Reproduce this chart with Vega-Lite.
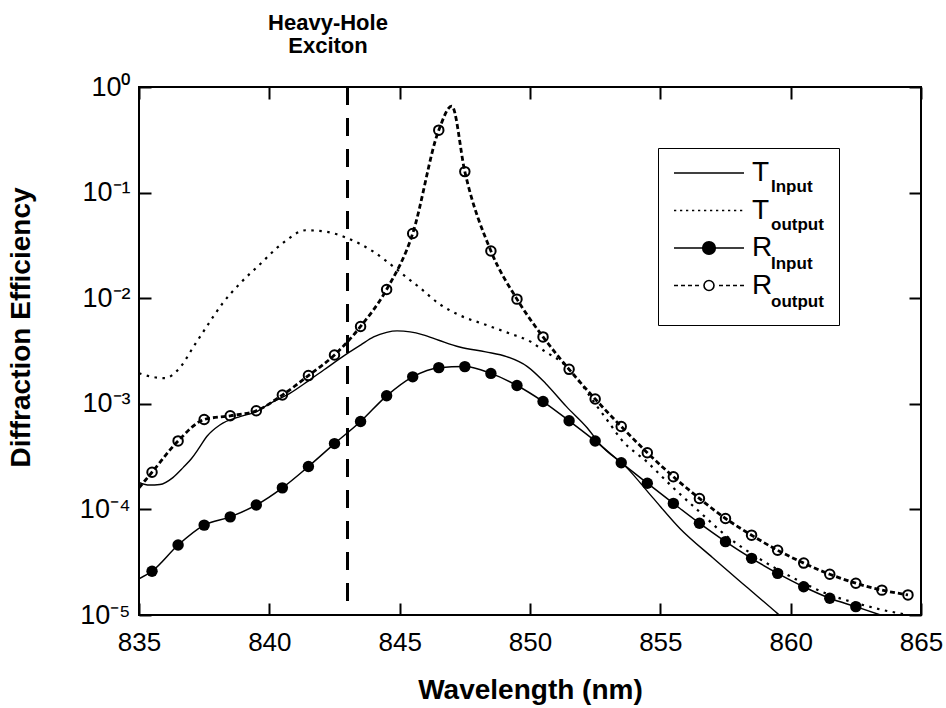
{
  "$schema": "https://vega.github.io/schema/vega-lite/v6.json",
  "width": 782,
  "height": 528,
  "autosize": {"type": "none"},
  "padding": {"left": 139, "top": 87, "right": 25, "bottom": 93},
  "background": "white",
  "config": {
    "font": "Liberation Sans",
    "view": {"stroke": "black", "strokeWidth": 2},
    "axis": {"grid": false, "domainOpacity": 0, "labelColor": "black", "titleColor": "black", "labelFont": "Liberation Sans", "titleFont": "Liberation Sans"}
  },
  "title": {"text": ["Heavy-Hole", "Exciton"], "anchor": "start", "align": "center", "dx": 189, "fontSize": 22, "fontWeight": "bold", "font": "Liberation Sans", "lineHeight": 23, "offset": 15, "color": "black", "frame": "group"},
  "data": {"values": [
    {"series": "T_Input", "wl": 835.0, "eff": 1.8e-4}, {"series": "T_Input", "wl": 835.4, "eff": 1.7e-4}, {"series": "T_Input", "wl": 835.8, "eff": 1.72e-4}, {"series": "T_Input", "wl": 836.3, "eff": 2.0e-4}, {"series": "T_Input", "wl": 836.7, "eff": 2.5e-4}, {"series": "T_Input", "wl": 837.0, "eff": 3.0e-4}, {"series": "T_Input", "wl": 837.3, "eff": 3.8e-4}, {"series": "T_Input", "wl": 837.6, "eff": 4.9e-4}, {"series": "T_Input", "wl": 838.1, "eff": 6.3e-4}, {"series": "T_Input", "wl": 838.9, "eff": 7.6e-4}, {"series": "T_Input", "wl": 839.5, "eff": 8.4e-4}, {"series": "T_Input", "wl": 840.0, "eff": 1.0e-3}, {"series": "T_Input", "wl": 840.8, "eff": 1.26e-3}, {"series": "T_Input", "wl": 841.5, "eff": 1.65e-3}, {"series": "T_Input", "wl": 842.1, "eff": 2.1e-3}, {"series": "T_Input", "wl": 843.0, "eff": 3.0e-3}, {"series": "T_Input", "wl": 843.5, "eff": 3.6e-3}, {"series": "T_Input", "wl": 844.0, "eff": 4.3e-3}, {"series": "T_Input", "wl": 844.5, "eff": 4.75e-3}, {"series": "T_Input", "wl": 844.9, "eff": 4.9e-3}, {"series": "T_Input", "wl": 845.4, "eff": 4.8e-3}, {"series": "T_Input", "wl": 845.9, "eff": 4.5e-3}, {"series": "T_Input", "wl": 846.5, "eff": 4.0e-3}, {"series": "T_Input", "wl": 847.3, "eff": 3.45e-3}, {"series": "T_Input", "wl": 848.3, "eff": 3.1e-3}, {"series": "T_Input", "wl": 849.1, "eff": 2.8e-3}, {"series": "T_Input", "wl": 849.9, "eff": 2.25e-3}, {"series": "T_Input", "wl": 850.6, "eff": 1.56e-3}, {"series": "T_Input", "wl": 851.4, "eff": 9.4e-4}, {"series": "T_Input", "wl": 852.2, "eff": 5.9e-4}, {"series": "T_Input", "wl": 852.7, "eff": 4.1e-4}, {"series": "T_Input", "wl": 853.7, "eff": 2.5e-4}, {"series": "T_Input", "wl": 854.7, "eff": 1.3e-4}, {"series": "T_Input", "wl": 855.75, "eff": 6.6e-5}, {"series": "T_Input", "wl": 857.0, "eff": 3.5e-5}, {"series": "T_Input", "wl": 858.3, "eff": 1.85e-5}, {"series": "T_Input", "wl": 859.5, "eff": 1.03e-5}, {"series": "T_Input", "wl": 860.0, "eff": 8.0e-6},
    {"series": "T_output", "wl": 835.0, "eff": 1.95e-3}, {"series": "T_output", "wl": 835.5, "eff": 1.8e-3}, {"series": "T_output", "wl": 836.0, "eff": 1.75e-3}, {"series": "T_output", "wl": 836.6, "eff": 2.25e-3}, {"series": "T_output", "wl": 837.1, "eff": 3.5e-3}, {"series": "T_output", "wl": 837.6, "eff": 5.4e-3}, {"series": "T_output", "wl": 838.2, "eff": 8.9e-3}, {"series": "T_output", "wl": 838.9, "eff": 1.4e-2}, {"series": "T_output", "wl": 839.6, "eff": 2.05e-2}, {"series": "T_output", "wl": 840.5, "eff": 3.3e-2}, {"series": "T_output", "wl": 841.4, "eff": 4.4e-2}, {"series": "T_output", "wl": 842.2, "eff": 4.25e-2}, {"series": "T_output", "wl": 843.0, "eff": 3.7e-2}, {"series": "T_output", "wl": 844.0, "eff": 2.75e-2}, {"series": "T_output", "wl": 844.75, "eff": 2.0e-2}, {"series": "T_output", "wl": 845.1, "eff": 1.7e-2}, {"series": "T_output", "wl": 845.8, "eff": 1.24e-2}, {"series": "T_output", "wl": 846.5, "eff": 8.9e-3}, {"series": "T_output", "wl": 847.3, "eff": 6.9e-3}, {"series": "T_output", "wl": 848.3, "eff": 5.6e-3}, {"series": "T_output", "wl": 849.2, "eff": 4.65e-3}, {"series": "T_output", "wl": 850.0, "eff": 3.9e-3}, {"series": "T_output", "wl": 850.6, "eff": 3.1e-3}, {"series": "T_output", "wl": 851.2, "eff": 2.5e-3}, {"series": "T_output", "wl": 852.0, "eff": 1.5e-3}, {"series": "T_output", "wl": 852.5, "eff": 1.0e-3}, {"series": "T_output", "wl": 853.0, "eff": 6.8e-4}, {"series": "T_output", "wl": 853.5, "eff": 4.6e-4}, {"series": "T_output", "wl": 854.5, "eff": 2.8e-4}, {"series": "T_output", "wl": 855.5, "eff": 1.6e-4}, {"series": "T_output", "wl": 856.5, "eff": 9.5e-5}, {"series": "T_output", "wl": 857.5, "eff": 5.7e-5}, {"series": "T_output", "wl": 858.5, "eff": 3.8e-5}, {"series": "T_output", "wl": 859.5, "eff": 2.7e-5}, {"series": "T_output", "wl": 860.5, "eff": 2.0e-5}, {"series": "T_output", "wl": 861.5, "eff": 1.55e-5}, {"series": "T_output", "wl": 862.5, "eff": 1.3e-5}, {"series": "T_output", "wl": 863.5, "eff": 1.12e-5}, {"series": "T_output", "wl": 864.5, "eff": 1.0e-5}, {"series": "T_output", "wl": 865.0, "eff": 9.4e-6},
    {"series": "R_Input", "wl": 835.0, "eff": 2.2e-5}, {"series": "R_Input", "wl": 835.5, "eff": 2.6e-5}, {"series": "R_Input", "wl": 836.5, "eff": 4.6e-5}, {"series": "R_Input", "wl": 837.5, "eff": 7.1e-5}, {"series": "R_Input", "wl": 838.5, "eff": 8.5e-5}, {"series": "R_Input", "wl": 839.5, "eff": 1.1e-4}, {"series": "R_Input", "wl": 840.5, "eff": 1.6e-4}, {"series": "R_Input", "wl": 841.5, "eff": 2.55e-4}, {"series": "R_Input", "wl": 842.5, "eff": 4.2e-4}, {"series": "R_Input", "wl": 843.5, "eff": 6.8e-4}, {"series": "R_Input", "wl": 844.5, "eff": 1.19e-3}, {"series": "R_Input", "wl": 845.5, "eff": 1.8e-3}, {"series": "R_Input", "wl": 846.5, "eff": 2.2e-3}, {"series": "R_Input", "wl": 847.5, "eff": 2.25e-3}, {"series": "R_Input", "wl": 848.5, "eff": 1.94e-3}, {"series": "R_Input", "wl": 849.5, "eff": 1.49e-3}, {"series": "R_Input", "wl": 850.5, "eff": 1.05e-3}, {"series": "R_Input", "wl": 851.5, "eff": 6.9e-4}, {"series": "R_Input", "wl": 852.5, "eff": 4.45e-4}, {"series": "R_Input", "wl": 853.5, "eff": 2.77e-4}, {"series": "R_Input", "wl": 854.5, "eff": 1.77e-4}, {"series": "R_Input", "wl": 855.5, "eff": 1.14e-4}, {"series": "R_Input", "wl": 856.5, "eff": 7.4e-5}, {"series": "R_Input", "wl": 857.5, "eff": 4.95e-5}, {"series": "R_Input", "wl": 858.5, "eff": 3.44e-5}, {"series": "R_Input", "wl": 859.5, "eff": 2.48e-5}, {"series": "R_Input", "wl": 860.5, "eff": 1.85e-5}, {"series": "R_Input", "wl": 861.5, "eff": 1.44e-5}, {"series": "R_Input", "wl": 862.5, "eff": 1.2e-5}, {"series": "R_Input", "wl": 864.0, "eff": 9.0e-6},
    {"series": "R_output", "wl": 835.0, "eff": 1.6e-4}, {"series": "R_output", "wl": 835.5, "eff": 2.25e-4}, {"series": "R_output", "wl": 836.5, "eff": 4.45e-4}, {"series": "R_output", "wl": 837.5, "eff": 7.1e-4}, {"series": "R_output", "wl": 838.5, "eff": 7.7e-4}, {"series": "R_output", "wl": 839.5, "eff": 8.6e-4}, {"series": "R_output", "wl": 840.5, "eff": 1.21e-3}, {"series": "R_output", "wl": 841.5, "eff": 1.85e-3}, {"series": "R_output", "wl": 842.5, "eff": 2.9e-3}, {"series": "R_output", "wl": 843.5, "eff": 5.4e-3}, {"series": "R_output", "wl": 844.5, "eff": 1.21e-2}, {"series": "R_output", "wl": 845.5, "eff": 4.1e-2}, {"series": "R_output", "wl": 846.5, "eff": 0.39}, {"series": "R_output", "wl": 847.0, "eff": 0.66}, {"series": "R_output", "wl": 847.5, "eff": 0.158}, {"series": "R_output", "wl": 848.5, "eff": 0.028}, {"series": "R_output", "wl": 849.5, "eff": 9.8e-3}, {"series": "R_output", "wl": 850.5, "eff": 4.3e-3}, {"series": "R_output", "wl": 851.5, "eff": 2.12e-3}, {"series": "R_output", "wl": 852.5, "eff": 1.11e-3}, {"series": "R_output", "wl": 853.5, "eff": 6.1e-4}, {"series": "R_output", "wl": 854.5, "eff": 3.44e-4}, {"series": "R_output", "wl": 855.5, "eff": 2.04e-4}, {"series": "R_output", "wl": 856.5, "eff": 1.27e-4}, {"series": "R_output", "wl": 857.5, "eff": 8.2e-5}, {"series": "R_output", "wl": 858.5, "eff": 5.7e-5}, {"series": "R_output", "wl": 859.5, "eff": 4.1e-5}, {"series": "R_output", "wl": 860.5, "eff": 3.1e-5}, {"series": "R_output", "wl": 861.5, "eff": 2.43e-5}, {"series": "R_output", "wl": 862.5, "eff": 2.0e-5}, {"series": "R_output", "wl": 863.5, "eff": 1.72e-5}, {"series": "R_output", "wl": 864.5, "eff": 1.55e-5}
  ]},
  "resolve": {"axis": {"x": "independent", "y": "independent"}},
  "layer": [
    {
      "transform": [{"filter": "datum.series == 'T_Input'"}],
      "mark": {"type": "line", "color": "black", "strokeWidth": 1.4, "interpolate": "monotone", "clip": true},
      "encoding": {
        "x": {"field": "wl", "type": "quantitative", "scale": {"domain": [835, 865], "nice": false, "zero": false},
          "axis": {"orient": "bottom", "values": [835, 840, 845, 850, 855, 860, 865], "tickColor": "black", "tickWidth": 2, "labelFlush": false,
            "offset": -12, "tickSize": 12, "labelFontSize": 26, "labelPadding": 14, "title": "Wavelength (nm)", "titleFontSize": 28, "titleFontWeight": "bold", "titleY": 95, "titleBaseline": "alphabetic"}},
        "y": {"field": "eff", "type": "quantitative", "scale": {"type": "log", "domain": [0.00001, 1], "nice": false},
          "axis": {"orient": "left", "values": [0.00001, 0.0001, 0.001, 0.01, 0.1, 1], "tickColor": "black", "tickWidth": 2, "labelFlush": false,
            "labelExpr": "datum.value == 1 ? '10⁰' : datum.value == 0.1 ? '10⁻¹' : datum.value == 0.01 ? '10⁻²' : datum.value == 0.001 ? '10⁻³' : datum.value == 0.0001 ? '10⁻⁴' : '10⁻⁵'",
            "offset": -12, "tickSize": 12, "labelFontSize": 27, "labelPadding": 9, "title": "Diffraction Efficiency", "titleFontSize": 28, "titleFontWeight": "bold", "titleX": -116, "titleY": 240}}
      }
    },
    {
      "transform": [{"filter": "datum.series == 'T_output'"}],
      "mark": {"type": "line", "color": "black", "strokeWidth": 2.2, "strokeDash": [2.5, 5.5], "interpolate": "monotone", "clip": true},
      "encoding": {
        "x": {"field": "wl", "type": "quantitative",
          "axis": {"orient": "top", "values": [835, 840, 845, 850, 855, 860, 865], "labels": false, "title": null, "tickColor": "black", "tickWidth": 2, "offset": -12, "tickSize": 12}},
        "y": {"field": "eff", "type": "quantitative",
          "axis": {"orient": "right", "values": [0.00001, 0.0001, 0.001, 0.01, 0.1, 1], "labels": false, "title": null, "tickColor": "black", "tickWidth": 2, "offset": -12, "tickSize": 12}}
      }
    },
    {
      "transform": [{"filter": "datum.series == 'R_Input'"}],
      "mark": {"type": "line", "color": "black", "strokeWidth": 1.5, "interpolate": "monotone", "clip": true},
      "encoding": {
        "x": {"field": "wl", "type": "quantitative", "axis": null},
        "y": {"field": "eff", "type": "quantitative", "axis": null}
      }
    },
    {
      "transform": [{"filter": "datum.series == 'R_output'"}],
      "mark": {"type": "line", "color": "black", "strokeWidth": 2.8, "strokeDash": [5, 3], "interpolate": "monotone", "clip": true},
      "encoding": {
        "x": {"field": "wl", "type": "quantitative", "axis": null},
        "y": {"field": "eff", "type": "quantitative", "axis": null}
      }
    },
    {
      "transform": [{"filter": "datum.series == 'R_Input' && datum.wl % 1 == 0.5"}],
      "mark": {"type": "point", "shape": "circle", "filled": true, "fill": "black", "size": 130, "strokeWidth": 0, "opacity": 1},
      "encoding": {
        "x": {"field": "wl", "type": "quantitative", "axis": null},
        "y": {"field": "eff", "type": "quantitative", "axis": null}
      }
    },
    {
      "transform": [{"filter": "datum.series == 'R_output' && datum.wl % 1 == 0.5"}],
      "mark": {"type": "point", "shape": "circle", "filled": false, "stroke": "black", "strokeWidth": 2, "size": 90, "opacity": 1},
      "encoding": {
        "x": {"field": "wl", "type": "quantitative", "axis": null},
        "y": {"field": "eff", "type": "quantitative", "axis": null}
      }
    },
    {
      "mark": {"type": "rule", "color": "black", "strokeWidth": 2, "strokeDash": [18, 13]},
      "encoding": {
        "x": {"datum": 843, "type": "quantitative", "axis": null}
      }
    },
    {
      "transform": [{"filter": "false"}],
      "mark": {"type": "point", "stroke": "black", "strokeWidth": 1.6, "filled": true, "opacity": 1},
      "encoding": {
        "shape": {"field": "series", "type": "nominal",
          "scale": {"domain": ["T_Input", "T_output", "R_Input", "R_output"],
            "range": ["M-2.333,0L2.333,0",
              "M-2.333,0L-2.183,0M-1.933,0L-1.783,0M-1.533,0L-1.383,0M-1.133,0L-0.983,0M-0.733,0L-0.583,0M-0.333,0L-0.183,0M0.067,0L0.217,0M0.467,0L0.617,0M0.867,0L1.017,0M1.267,0L1.417,0M1.667,0L1.817,0M2.067,0L2.217,0",
              "M-2.333,0L2.333,0M-0.42,0A0.42,0.42,0,1,1,0.42,0A0.42,0.42,0,1,1,-0.42,0Z",
              "M-2.333,0L-2.067,0M-1.867,0L-1.6,0M-1.4,0L-1.133,0M-0.933,0L-0.667,0M-0.333,0A0.333,0.333,0,1,1,0.333,0A0.333,0.333,0,1,1,-0.333,0ZM0.667,0L0.933,0M1.133,0L1.4,0M1.6,0L1.867,0M2.067,0L2.333,0"]},
          "legend": {"orient": "none", "legendX": 554, "legendY": 70, "title": null, "labelExpr": "substring(datum.label, 0, 1)", "labelFontSize": 28, "labelFont": "Liberation Sans", "labelColor": "black", "labelOffset": 27, "symbolSize": 900, "rowPadding": 7.5, "padding": 0, "symbolStrokeWidth": 1.6, "labelLimit": 0}},
        "fill": {"field": "series", "type": "nominal",
          "scale": {"domain": ["T_Input", "T_output", "R_Input", "R_output"], "range": ["transparent", "transparent", "black", "white"]},
          "legend": {"orient": "none", "legendX": 554, "legendY": 70, "title": null, "labelExpr": "substring(datum.label, 0, 1)", "labelFontSize": 28, "labelFont": "Liberation Sans", "labelColor": "black", "labelOffset": 27, "symbolSize": 900, "rowPadding": 7.5, "padding": 0, "symbolStrokeWidth": 1.6, "labelLimit": 0}},
        "stroke": {"field": "series", "type": "nominal",
          "scale": {"domain": ["T_Input", "T_output", "R_Input", "R_output"], "range": ["black", "black", "black", "black"]},
          "legend": {"orient": "none", "legendX": 554, "legendY": 70, "title": null, "labelExpr": "substring(datum.label, 0, 1)", "labelFontSize": 28, "labelFont": "Liberation Sans", "labelColor": "black", "labelOffset": 27, "symbolSize": 900, "rowPadding": 7.5, "padding": 0, "symbolStrokeWidth": 1.6, "labelLimit": 0}}
      }
    },
    {
      "transform": [{"filter": "false"}],
      "mark": {"type": "point", "filled": true},
      "encoding": {
        "strokeDash": {"field": "sub", "type": "nominal",
          "scale": {"domain": ["Input1", "output1", "Input2", "output2"], "range": [[1, 0], [1, 0], [1, 0], [1, 0]]},
          "legend": {"orient": "none", "legendX": 519, "legendY": 61, "title": " ", "titleFontSize": 6, "titlePadding": 9, "labelExpr": "substring(datum.label, 0, length(datum.label) - 1)", "labelFontSize": 17, "labelFontWeight": "bold", "labelFont": "Liberation Sans", "labelColor": "black", "symbolSize": 4, "symbolOpacity": 0, "symbolStrokeWidth": 0, "labelOffset": 81, "rowPadding": 20.5, "padding": 15, "strokeColor": "black", "labelLimit": 0}}
      }
    }
  ]
}
